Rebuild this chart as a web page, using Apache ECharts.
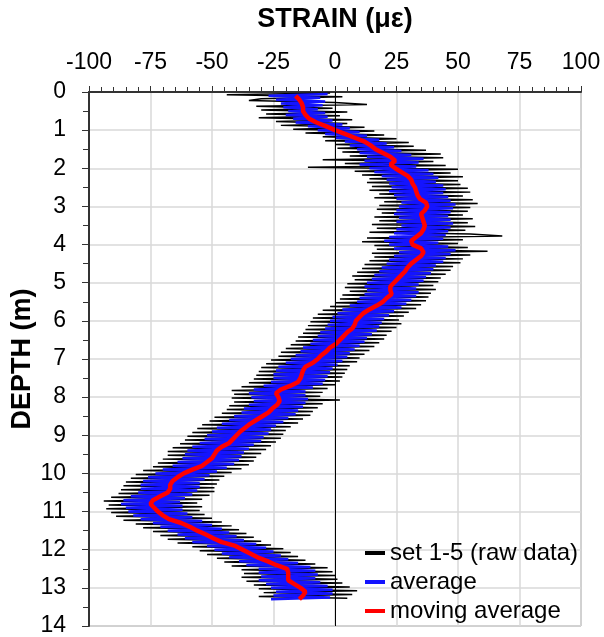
<!DOCTYPE html>
<html>
<head>
<meta charset="utf-8">
<script src="https://cdn.jsdelivr.net/npm/echarts@6/dist/echarts.min.js"></script>
<style>html,body{margin:0;padding:0;background:#fff}#c{width:604px;height:637px}</style>
</head>
<body>
<div id="c"></div>
<script>
// Depth sampling (m)
const rawStart = 0.025, avgStart = 0.05, movStart = 0.1;
const rawStep = 0.05, avgStep = 0.05, movStep = 0.1;

// set 1-5 raw data (strain, µε)
const rawStrain = [
-2,-44,3,-30,-35,0,13,-32,-1,-30,5,-28,2,-31,7,-24,5,-22,12,-17,
16,-12,20,-5,25,-4,30,0,32,1,37,3,43,6,44,-5,40,4,45,-11,
50,8,47,11,52,14,50,13,51,15,54,14,55,18,52,16,56,20,58,18,
55,17,54,19,52,16,56,18,54,15,57,17,53,14,55,68,13,52,11,50,
16,54,17,62,15,55,16,52,14,51,12,48,11,47,9,45,7,43,8,42,
5,40,4,41,6,39,3,38,2,37,0,35,-2,33,-5,30,-7,28,-9,26,
-10,27,-11,25,-12,23,-13,21,-15,20,-16,18,-18,16,-20,14,-22,12,-23,10,
-26,9,-28,6,-30,5,-31,4,-32,3,-33,2,-35,0,-38,-3,-42,-5,-41,-6,
-42,2,-41,-5,-43,-7,-44,-9,-46,-10,-49,-13,-51,-15,-54,-18,-56,-20,-58,-21,
-60,-22,-61,-24,-63,-26,-66,-28,-68,-30,-68,-32,-70,-33,-72,-35,-74,-38,-78,-42,
-81,-45,-83,-47,-85,-48,-86,-49,-87,-49,-88,-51,-91,-54,-94,-56,-92,-54,-93,-55,
-91,-53,-89,-50,-86,-46,-81,-42,-78,-39,-74,-36,-71,-33,-68,-30,-64,-26,-58,-21,
-55,-18,-52,-15,-48,-12,-45,-8,-42,-3,-38,-1,-37,0,-38,1,-36,3,-33,6,
-31,9,-29,7,-31,5
];

// average
const avgStrain = [
-3,-27,-6,-24,-4,-22,-5,-21,-7,-19,-4,-20,-3,-17,-1,-16,3,-11,6,-7,
10,-4,13,0,18,4,21,6,24,9,27,10,31,13,36,12,34,10,33,14,
38,16,40,19,42,21,41,22,44,23,45,22,44,24,46,25,47,27,49,26,
48,25,47,24,46,26,47,25,48,27,47,25,46,24,45,22,44,20,42,22,
46,24,49,26,47,24,45,22,44,21,41,19,40,18,39,16,37,15,36,13,
34,12,33,13,34,12,33,10,31,9,29,6,27,3,24,1,22,-1,20,-2,
19,-3,18,-4,17,-6,15,-7,13,-9,12,-10,10,-13,8,-14,6,-16,5,-18,
3,-20,1,-23,-1,-24,-2,-25,-3,-25,-4,-26,-5,-29,-9,-33,-12,-35,-12,-34,
-11,-33,-12,-35,-13,-37,-15,-38,-16,-41,-19,-43,-21,-46,-24,-48,-26,-50,-27,-52,
-29,-53,-30,-55,-33,-58,-35,-60,-37,-61,-38,-62,-39,-64,-41,-66,-44,-70,-48,-73,
-51,-76,-53,-78,-55,-79,-55,-79,-56,-80,-58,-83,-61,-86,-63,-87,-62,-85,-62,-84,
-60,-82,-58,-79,-54,-74,-50,-71,-46,-68,-43,-64,-40,-61,-37,-58,-32,-52,-28,-49,
-25,-46,-22,-43,-19,-39,-15,-36,-10,-31,-8,-31,-7,-30,-8,-31,-6,-28,-3,-26,
-1,-24,-1,-25,-2,-26
];

// moving average
const movStrain = [
-16,-14.5,-13.5,-13,-13,-12,-10.5,-7.5,-3.5,0,
4,8,12,14.5,16.5,19.5,22.5,24.5,22.5,24.5,
27,29.5,31,31.5,32.5,33,33.5,34.5,37,37.5,
36.5,35,35.5,36,36.5,36,35,33,31,31.5,
35,36,35,33,31,29.5,28.5,27,25.5,24,
22.5,22.5,23,21,19.5,17,14,11.5,10,8.5,
8,7,5,3.5,2,0.5,-2,-3.5,-5.5,-7,
-9,-12,-13,-13.5,-14,-15,-18,-22,-24,-23,
-22.5,-23.5,-25.5,-27,-29.5,-32,-34.5,-36.5,-38.5,-40,
-41.5,-43,-46,-48,-49,-50,-52,-54,-58,-61.5,
-64,-66,-67,-67,-68,-71,-74,-75,-73.5,-72,
-70,-67.5,-62.5,-59,-56,-52.5,-49.5,-46,-40.5,-37.5,
-34.5,-31.5,-27.5,-24,-19.5,-19,-19,-19,-16.5,-14,
-12,-13,-14.5
];

// axis ticks
const strainTicks = [-100,-75,-50,-25,0,25,50,75,100];
const depthTicks = [0,1,2,3,4,5,6,7,8,9,10,11,12,13,14];

const names = ['set 1-5 (raw data)','average','moving average'];

function pairs(vals, start, step){
  return vals.map((v,i)=>[v, +(start + i*step).toFixed(3)]);
}

const chart = echarts.init(document.getElementById('c'), null, {renderer:'canvas'});
const font = 'Liberation Sans, Arial, sans-serif';
chart.setOption({
  animation:false,
  textStyle:{fontFamily:font},
  grid:{left:89,right:23,top:92,bottom:11,containLabel:false,outerBoundsMode:'none',
        show:true,borderColor:'#7f7f7f',borderWidth:1,backgroundColor:'#fff'},
  xAxis:{
    type:'value',position:'top',
    min:strainTicks[0],max:strainTicks[strainTicks.length-1],interval:25,
    name:'STRAIN (με)',nameLocation:'middle',nameGap:59,
    nameTextStyle:{fontSize:27,fontWeight:'bold',color:'#000',fontFamily:font},
    axisLine:{show:true,onZero:false,lineStyle:{color:'#333',width:2}},
    axisTick:{show:true,inside:false,length:6,lineStyle:{color:'#333',width:1}},
    minorTick:{show:true,splitNumber:5,length:5,lineStyle:{color:'#333',width:1}},
    axisLabel:{fontSize:23,color:'#000',margin:18,fontFamily:font},
    splitLine:{show:true,lineStyle:{color:'#d9d9d9',width:1.5}}
  },
  yAxis:{
    type:'value',inverse:true,
    min:depthTicks[0],max:depthTicks[depthTicks.length-1],interval:1,
    name:'DEPTH (m)',nameLocation:'middle',nameGap:53,nameRotate:90,nameMoveOverlap:false,
    nameTextStyle:{fontSize:27,fontWeight:'bold',color:'#000',fontFamily:font},
    axisLine:{show:true,onZero:false,lineStyle:{color:'#333',width:2}},
    axisTick:{show:true,inside:false,length:7,lineStyle:{color:'#333',width:1}},
    minorTick:{show:true,splitNumber:2,length:6,lineStyle:{color:'#333',width:1}},
    axisLabel:{fontSize:23,color:'#000',margin:23,fontFamily:font},
    splitLine:{show:true,lineStyle:{color:'#d9d9d9',width:1.5}}
  },
  legend:{
    orient:'vertical',left:360,top:535,itemGap:3,itemWidth:20,itemHeight:4,
    icon:'rect',
    textStyle:{fontSize:24,color:'#000',fontFamily:font,lineHeight:26},
    data:names
  },
  series:[
    {name:names[0],type:'line',data:pairs(rawStrain,rawStart,rawStep),showSymbol:false,
     lineStyle:{color:'#000',width:1.5},itemStyle:{color:'#000'},z:2,
     markLine:{silent:true,symbol:'none',label:{show:false},
       lineStyle:{color:'#000',width:1,type:'solid'},data:[{xAxis:0}]}},
    {name:names[1],type:'line',data:pairs(avgStrain,avgStart,avgStep),showSymbol:false,
     lineStyle:{color:'#1414ff',width:2.5},itemStyle:{color:'#1414ff'},z:3},
    {name:names[2],type:'line',data:pairs(movStrain,movStart,movStep),showSymbol:false,
     lineStyle:{color:'#ff0000',width:4.5},itemStyle:{color:'#ff0000'},z:4}
  ]
});
</script>
</body>
</html>
